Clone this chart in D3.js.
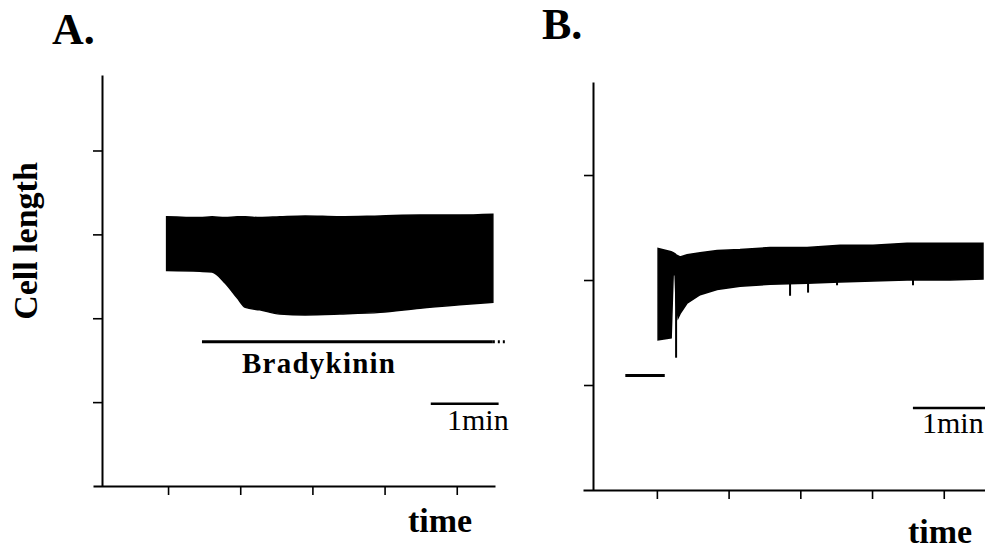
<!DOCTYPE html>
<html>
<head>
<meta charset="utf-8">
<script src="https://cdn.jsdelivr.net/npm/d3@7"></script>
<style>
  body { margin: 0; background: #fff; }
</style>
</head>
<body>
<div class="chart"></div>
<script>
// Panel A: envelope of the contraction trace (time in min, cell length in arbitrary units)
const timeA   = [0.98, 1.44, 1.61, 1.79, 1.96, 2.07, 2.27, 2.55, 2.90, 3.38, 3.94, 4.49, 5.04, 5.50];
const topA    = [3.21, 3.20, 3.21, 3.20, 3.21, 3.21, 3.20, 3.21, 3.22, 3.21, 3.22, 3.23, 3.23, 3.24];
const bottomA = [2.57, 2.56, 2.55, 2.42, 2.24, 2.13, 2.10, 2.05, 2.04, 2.05, 2.07, 2.12, 2.16, 2.19];
const drugA = [1.47, 5.50];      // bradykinin application
const drugTailA = [5.50, 5.68];  // dotted continuation
const drugLevelA = 1.72;
const scaleBarA = [4.64, 5.58];
const scaleLevelA = 0.98;

// Panel B
const timeB   = [1.017, 1.199, 1.227, 1.254, 1.268, 1.296, 1.324, 1.422, 1.603, 1.84, 2.16, 2.578, 3.094, 3.554, 4.014, 4.488, 5.087, 5.547];
const topB    = [2.30, 2.27, 2.26, 2.25, 2.24, 2.23, 2.22, 2.24, 2.26, 2.28, 2.29, 2.31, 2.31, 2.33, 2.33, 2.35, 2.35, 2.35];
const bottomB = [1.43, 1.45, 2.05, 2.05, 1.79, 1.64, 1.68, 1.78, 1.86, 1.91, 1.94, 1.96, 1.97, 1.98, 1.99, 2.00, 2.00, 2.01];
const spikeTimeB = [1.268, 2.857, 3.108, 3.512, 4.571];
const spikeLowB  = [1.26, 1.85, 1.88, 1.95, 1.95];
const restB = [0.56, 1.11];      // resting length before stimulation
const restLevelB = 1.09;
const scaleBarB = [4.57, 5.58];
const scaleLevelB = 0.78;

const xTicks = [1, 2, 3, 4, 5];
const yTicksA = [1, 2, 3, 4];
const yTicksB = [1, 2, 3];

const serif = "'Liberation Serif', 'Times New Roman', 'DejaVu Serif', serif";
const w = 985, h = 549;
const svg = d3.select(".chart").append("svg")
  .attr("width", w).attr("height", h);

function drawAxes(x, y, yTicks, yAxisX, xAxisY) {
  svg.append("g")
    .attr("transform", "translate(0," + xAxisY + ")")
    .call(d3.axisBottom(x).tickValues(xTicks).tickFormat("").tickSize(9).tickSizeOuter(0))
    .call(g => g.select(".domain").attr("stroke-width", 2))
    .call(g => g.selectAll(".tick line").attr("stroke-width", 1.6));
  svg.append("g")
    .attr("transform", "translate(" + yAxisX + ",0)")
    .call(d3.axisLeft(y).tickValues(yTicks).tickFormat("").tickSize(9).tickSizeOuter(0))
    .call(g => g.select(".domain").attr("stroke-width", 2))
    .call(g => g.selectAll(".tick line").attr("stroke-width", 1.6));
}

function bar(x, y, span, level, width, dash) {
  svg.append("line")
    .attr("x1", x(span[0])).attr("x2", x(span[1]))
    .attr("y1", y(level)).attr("y2", y(level))
    .attr("stroke", "#000").attr("stroke-width", width)
    .attr("stroke-dasharray", dash || null);
}

function label(x, y, size, bold, txt) {
  return svg.append("text")
    .attr("x", x).attr("y", y)
    .attr("font-family", serif)
    .attr("font-size", size)
    .attr("font-weight", bold ? "bold" : "normal")
    .attr("fill", "#000")
    .text(txt);
}

// ---------- Panel A ----------
const xA = d3.scaleLinear().domain([-0.04, 5.53]).range([93, 495]);
const yA = d3.scaleLinear().domain([0, 4.9]).range([486, 75]);
drawAxes(xA, yA, yTicksA, 102, 486);

const traceA = timeA.map((t, i) => ({ t: t, hi: topA[i], lo: bottomA[i] }));
svg.append("path")
  .datum(traceA)
  .attr("fill", "#000").attr("stroke", "#000").attr("stroke-width", 1.5)
  .attr("d", d3.area().x(d => xA(d.t)).y0(d => yA(d.lo)).y1(d => yA(d.hi)).curve(d3.curveMonotoneX));

bar(xA, yA, drugA, drugLevelA, 3);
bar(xA, yA, drugTailA, drugLevelA, 3, "2,3");
bar(xA, yA, scaleBarA, scaleLevelA, 2.5);

label(52, 44, 44, true, "A.");
label(0, 0, 34, true, "Cell length")
  .attr("transform", "translate(37,241) rotate(-90)")
  .attr("text-anchor", "middle");
label(242, 373, 29, true, "Bradykinin").attr("textLength", 153);
label(447, 430, 30, false, "1min");
label(408, 532, 34, true, "time");

// ---------- Panel B ----------
const xB = d3.scaleLinear().domain([-0.03, 5.575]).range([583, 985]);
const yB = d3.scaleLinear().domain([0, 3.886]).range([490, 82]);
drawAxes(xB, yB, yTicksB, 593, 490);

bar(xB, yB, restB, restLevelB, 3);

const traceB = timeB.map((t, i) => ({ t: t, hi: topB[i], lo: bottomB[i] }));
svg.append("path")
  .datum(traceB)
  .attr("fill", "#000").attr("stroke", "#000").attr("stroke-width", 1.5)
  .attr("d", d3.area().x(d => xB(d.t)).y0(d => yB(d.lo)).y1(d => yB(d.hi)));

svg.selectAll(".spikeB")
  .data(spikeTimeB)
  .enter()
  .append("line")
  .attr("class", "spikeB")
  .attr("x1", d => xB(d)).attr("x2", d => xB(d))
  .attr("y1", yB(2.1))
  .attr("y2", (d, i) => yB(spikeLowB[i]))
  .attr("stroke", "#000").attr("stroke-width", 2);

bar(xB, yB, scaleBarB, scaleLevelB, 2.5);

label(542, 39, 44, true, "B.");
label(922, 433, 30, false, "1min");
label(908, 543, 34, true, "time");
</script>
</body>
</html>
